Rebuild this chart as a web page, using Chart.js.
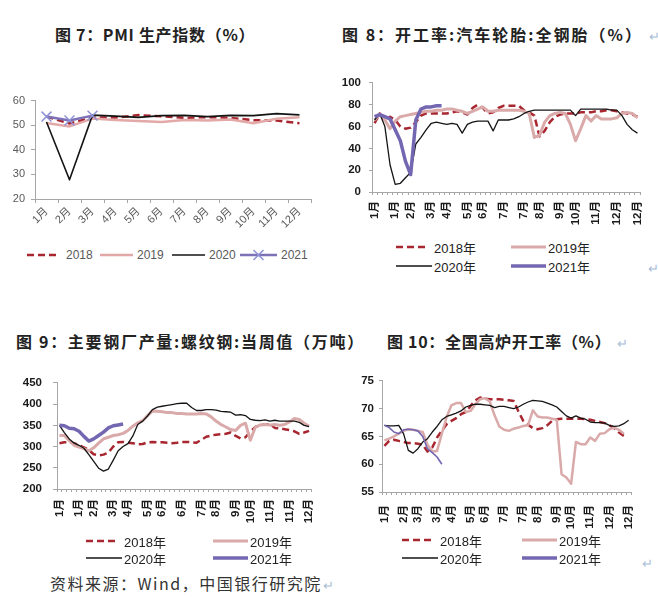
<!DOCTYPE html>
<html>
<head>
<meta charset="utf-8">
<script src="https://cdn.jsdelivr.net/npm/chart.js@4.4.1/dist/chart.umd.min.js"></script>
<style>
  html, body { margin: 0; padding: 0; background: #fff; }
  body { position: relative; width: 658px; height: 603px; overflow: hidden; font-family: "Noto Sans CJK SC", sans-serif; }
  canvas, .title, .leg, .note, .mark { position: absolute; }
  .title { font-weight: 700; font-size: 16px; color: #222; white-space: nowrap; line-height: 20px; }
  .ret { color: #a9bcd6; font-size: 13px; font-weight: 400; margin-left: 6px; letter-spacing: 0; }
  .mark { color: #a9bcd6; font-size: 13px; }
  .leg { display: flex; align-items: center; white-space: nowrap; height: 16px; line-height: 16px; }
  .leg svg { display: block; }
  .leg7 { font: 12px "Liberation Sans", "Noto Sans CJK SC", sans-serif; color: #595959; }
  .legW { font: 13px "Liberation Sans", "Noto Sans CJK SC", sans-serif; color: #222; }
  .note { font-size: 16px; color: #333; white-space: nowrap; line-height: 20px; }
</style>
</head>
<body>
<div class="title" style="left:55px;top:24px;letter-spacing:0.7px">图 7：PMI 生产指数（%）</div>
<div class="title" style="left:342px;top:24px;letter-spacing:2px">图 8：开工率:汽车轮胎:全钢胎（%）<span class="ret">↵</span></div>
<div class="title" style="left:16px;top:331px;letter-spacing:1.7px">图 9：主要钢厂产量:螺纹钢:当周值（万吨）</div>
<div class="title" style="left:387px;top:331px;letter-spacing:0.7px">图 10：全国高炉开工率（%）<span class="ret">↵</span></div>

<canvas id="c7" width="322" height="150" style="left:0;top:88px"></canvas>
<canvas id="c8" width="328" height="170" style="left:330px;top:68px"></canvas>
<canvas id="c9" width="330" height="170" style="left:0;top:365px"></canvas>
<canvas id="c10" width="328" height="166" style="left:330px;top:369px"></canvas>

<div class="mark" style="left:648px;top:258px">↵</div>
<div class="mark" style="left:642px;top:553px">↵</div>
<div class="note" style="left:50px;top:573px;letter-spacing:1.5px">资料来源：Wind，中国银行研究院<span class="ret" style="margin-left:1px">↵</span></div>

<script>
// 图7 PMI 生产指数（月度）
const months = ['1月','2月','3月','4月','5月','6月','7月','8月','9月','10月','11月','12月'];
const pmi2018 = [53.5, 50.7, 53.1, 53.1, 54.1, 53.6, 53.0, 53.3, 53.0, 52.0, 51.9, 50.8];
const pmi2019 = [50.9, 49.5, 52.7, 52.1, 51.7, 51.3, 52.1, 51.9, 52.3, 50.8, 52.6, 53.2];
const pmi2020 = [51.3, 27.8, 54.1, 53.7, 53.2, 53.9, 54.0, 53.5, 54.0, 53.9, 54.7, 54.2];
const pmi2021 = [53.5, 51.9, 53.9];

// 周度图的刻度标签（52周中显示的位置）
const weekTickIdx = [0, 4, 7, 11, 14, 18, 21, 25, 29, 32, 36, 39, 43, 47, 51];
const tyreTicks  = ['1月','1月','2月','3月','4月','5月','6月','7月','7月','8月','9月','10月','11月','12月','12月'];
const steelTicks = ['1月','1月','2月','3月','4月','5月','6月','6月','7月','8月','9月','10月','11月','11月','12月'];
const blastTicks = ['1月','2月','3月','3月','4月','5月','6月','7月','7月','8月','9月','10月','11月','12月','12月'];

// 图8 开工率:汽车轮胎:全钢胎
const tyre2018 = [63,72,66,69,66,60,58,59,64,70, 72,72,72,72,72,73,74,73,71,77, 80,77,72,73,77,79,79,79,79,75, 73,70,51,56,64,69,71,72,72,72, 73,73,73,74,74,75,75,74,73,72, 71,69];
const tyre2019 = [66,71,66,58,65,69,70,71,72,73, 74,74,75,75,76,76,75,74,72,74, 76,78,74,74,75,75,75,75,75,74, 72,50,52,64,70,72,73,72,62,47, 58,70,65,70,67,67,67,68,72,73, 72,68];
const tyre2020 = [66,72,60,25,7,8,13,18,44,50, 57,63,64,63,62,63,62,54,62,64, 65,65,65,56,66,66,66,67,69,72, 74,75,75,75,75,75,75,75,75,70, 76,76,76,76,76,76,75,75,70,62, 57,54];
const tyre2021 = [69,71,69,67,57,47,28,16,66,76,78,78,79,79];

// 图9 主要钢厂产量:螺纹钢:当周值
const steel2018 = [308,310,311,308,303,298,292,282,279,281, 286,300,310,311,309,308,305,306,310,311, 310,310,309,308,309,311,311,310,309,316, 323,326,328,329,330,333,325,319,322,335, 346,350,352,353,344,343,341,339,336,330, 333,337];
const steel2019 = [326,326,314,303,299,295,290,297,308,318, 322,326,328,331,338,348,356,361,373,384, 383,382,380,380,378,378,377,377,377,378, 377,370,360,352,346,340,338,350,355,315, 345,351,352,351,352,350,352,358,366,364, 355,348];
const steel2020 = [350,333,318,308,303,296,281,265,249,242, 247,268,290,300,307,325,352,360,372,387, 393,395,397,399,401,402,402,392,385,385, 387,387,386,383,382,381,374,375,373,364, 362,361,363,360,362,360,360,360,360,357, 350,347];
const steel2021 = [350,349,343,342,336,324,313,318,326,334,344,349,351,353];

// 图10 全国高炉开工率
const blast2018 = [63.3,64.2,64.4,64.2,64.0,63.8,63.8,63.7,63.5,62.3, 63.0,64.8,66.0,67.2,67.8,68.3,69.0,69.4,70.5,71.5, 72.0,71.8,71.7,71.7,71.7,71.6,71.5,71.4,69.5,67.8, 67.1,66.5,66.3,66.5,67.0,67.8,68.1,68.2,68.2,68.2, 68.2,68.2,68.1,68.0,67.8,67.6,67.4,67.0,66.5,65.7, 65.1];
const blast2019 = [64.3,64.6,65.0,65.5,66.0,66.3,66.2,66.0,65.8,63.5, 62.3,62.4,65.5,68.5,70.6,71.0,71.0,69.4,69.6,70.8, 71.7,71.9,71.3,68.8,66.8,66.2,66.0,66.4,66.6,66.9, 67.0,69.7,68.6,68.4,68.4,68.2,68.0,58.2,57.6,56.5, 64.0,63.6,63.6,64.8,64.2,65.5,65.6,66.3,66.6,66.2, 65.5];
const blast2020 = [67.0,66.9,66.9,67.0,65.5,62.5,62.0,62.8,64.0,64.6, 65.8,66.8,68.0,68.6,68.9,69.2,69.6,70.3,70.6,70.8, 70.8,70.7,70.6,70.2,70.4,70.4,70.2,70.0,70.3,70.8, 71.2,71.5,71.4,71.3,71.0,70.7,70.3,69.5,68.7,68.3, 68.7,68.3,68.1,67.6,67.5,67.5,67.4,67.0,66.8,66.9, 67.3,67.9];
const blast2021 = [67.0,66.6,65.8,65.5,66.2,66.3,66.2,66.0,65.0,62.8,62.1,61.3,60.0];

const RED = '#a8262f', PINK = '#d9aaa9', BLACK = '#141414', PURPLE = '#7467b2';
const AXIS = '#a6a6a6';
const FONT = '"Liberation Sans", "Noto Sans CJK SC", sans-serif';

function weekLabels(names) {
  const labels = new Array(52).fill('');
  weekTickIdx.forEach((k, i) => { labels[k] = names[i]; });
  return labels;
}

function line(data, color, width, dash, order) {
  return {
    data, borderColor: color, backgroundColor: color, borderWidth: width,
    borderDash: dash || [], pointRadius: 0, fill: false, order,
    borderJoinStyle: 'round'
  };
}

function makeChart(id, labels, datasets, o) {
  const font = { family: FONT, size: o.fontSize, weight: o.bold ? 'bold' : 'normal' };
  return new Chart(document.getElementById(id), {
    type: 'line',
    data: { labels, datasets },
    options: {
      responsive: false, animation: false, devicePixelRatio: 1,
      layout: { padding: { top: o.top, right: o.right, left: 0, bottom: 0 } },
      plugins: { legend: { display: false }, tooltip: { enabled: false } },
      elements: { line: { tension: 0 } },
      scales: {
        x: {
          offset: true,
          grid: { offset: true, drawOnChartArea: false, tickLength: o.xTick, color: AXIS },
          border: { color: AXIS },
          ticks: { autoSkip: false, minRotation: o.rot, maxRotation: o.rot, padding: o.xPad, font, color: o.color },
          afterFit: s => { s.height = o.xh; }
        },
        y: {
          min: o.min, max: o.max,
          grid: { drawOnChartArea: false, tickLength: o.yTick, color: AXIS },
          border: { color: AXIS },
          ticks: { stepSize: o.step, padding: o.yPad, font, color: o.color },
          afterFit: s => { s.width = o.yw; }
        }
      }
    }
  });
}

// 图7
const pmiLast = line(pmi2021, '#7d72b8', 2.5, null, 1);
Object.assign(pmiLast, { pointStyle: 'crossRot', pointRadius: 7, pointBorderWidth: 1.5, pointBorderColor: '#8e92d4' });
makeChart('c7', months, [
  line(pmi2018, RED, 2.5, [7, 4], 4),
  line(pmi2019, '#e3a9a8', 2.5, null, 3),
  line(pmi2020, BLACK, 1.6, null, 2),
  pmiLast
], { top: 10, right: 11, yw: 35, xh: 39, min: 20, max: 60, step: 10, rot: 45,
     xTick: 4, yTick: 4, xPad: 2, yPad: 6, fontSize: 11, bold: false, color: '#595959' });

// 图8
makeChart('c8', weekLabels(tyreTicks), [
  line(tyre2018, RED, 2.5, [7, 4], 4),
  line(tyre2019, PINK, 3, null, 3),
  line(tyre2020, BLACK, 1.3, null, 2),
  line(tyre2021, PURPLE, 3.5, null, 1)
], { top: 10, right: 18, yw: 42, xh: 46, min: 0, max: 100, step: 20, rot: 90,
     xTick: 3, yTick: 3, xPad: 6, yPad: 8, fontSize: 11.5, bold: true, color: '#1a1a1a' });

// 图9
makeChart('c9', weekLabels(steelTicks), [
  line(steel2018, RED, 2.5, [7, 4], 4),
  line(steel2019, PINK, 3, null, 3),
  line(steel2020, BLACK, 1.3, null, 2),
  line(steel2021, PURPLE, 3.5, null, 1)
], { top: 10, right: 13, yw: 57, xh: 46, min: 200, max: 450, step: 50, rot: 90,
     xTick: 3, yTick: 4, xPad: 7, yPad: 11, fontSize: 11.5, bold: true, color: '#1a1a1a' });

// 图10
makeChart('c10', weekLabels(blastTicks), [
  line(blast2018, RED, 2.5, [7, 4], 4),
  line(blast2019, PINK, 2.5, null, 3),
  line(blast2020, BLACK, 1.3, null, 2),
  line(blast2021, PURPLE, 1.6, null, 1)
], { top: 10, right: 27, yw: 52, xh: 43, min: 55, max: 75, step: 5, rot: 90,
     xTick: 3, yTick: 3, xPad: 10, yPad: 5, fontSize: 11.5, bold: true, color: '#1a1a1a' });

// 图例
function legendItem(x, y, w, s, text, cls) {
  const d = document.createElement('div');
  d.className = 'leg ' + cls;
  d.style.left = x + 'px';
  d.style.top = (y - 8) + 'px';
  const dash = s.dash ? ` stroke-dasharray="${s.dash.join(' ')}"` : '';
  const m = s.marker ? `<path d="M${w / 2 - 5} 3 L${w / 2 + 5} 13 M${w / 2 + 5} 3 L${w / 2 - 5} 13" stroke="${s.marker}" stroke-width="1.5"/>` : '';
  d.innerHTML = `<svg width="${w}" height="16"><line x1="0" y1="8" x2="${w}" y2="8" stroke="${s.color}" stroke-width="${s.width}"${dash}/>${m}</svg>` +
    `<span style="margin-left:${s.gap}px">${text}</span>`;
  document.body.appendChild(d);
}

const S18 = { color: RED, width: 2.5, dash: [7, 4], gap: 6 };
const S19 = { color: PINK, width: 3, gap: 2 };
const S20 = { color: BLACK, width: 1.3, gap: 2 };
const S21 = { color: PURPLE, width: 3.5, gap: 2 };

legendItem(27, 255, 33, S18, '2018', 'leg7');
legendItem(100, 255, 33, { color: '#e3a9a8', width: 2.5, gap: 4 }, '2019', 'leg7');
legendItem(172, 255, 33, { color: BLACK, width: 1.6, gap: 4 }, '2020', 'leg7');
legendItem(240, 255, 37, { color: '#7d72b8', width: 2.5, marker: '#8e92d4', gap: 4 }, '2021', 'leg7');

[[396, 511, 247, 266], [86, 213, 541, 558], [402, 522, 540, 558]].forEach(([xa, xb, ya, yb]) => {
  legendItem(xa, ya, 32, S18, '2018年', 'legW');
  legendItem(xb, ya, 35, S19, '2019年', 'legW');
  legendItem(xa, yb, 36, S20, '2020年', 'legW');
  legendItem(xb, yb, 35, S21, '2021年', 'legW');
});
</script>
</body>
</html>
